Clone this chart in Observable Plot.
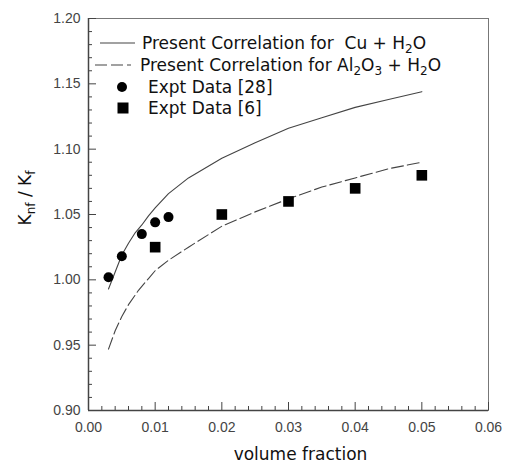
<!DOCTYPE html>
<html><head><meta charset="utf-8">
<script src="https://cdn.jsdelivr.net/npm/d3@7"></script>
<script src="https://cdn.jsdelivr.net/npm/@observablehq/plot@0.6"></script>
<style>body{margin:0;background:#fff}</style>
</head><body><div id="chart"></div>
<script>
// Present correlation, Cu + H2O (solid)
const cuX = [0.003,0.004,0.005,0.006,0.007,0.008,0.009,0.010,0.012,0.015,0.020,0.025,0.030,0.035,0.040,0.045,0.050];
const cuY = [0.993,1.006,1.019,1.028,1.036,1.042,1.049,1.055,1.066,1.078,1.093,1.105,1.116,1.124,1.132,1.138,1.144];
// Present correlation, Al2O3 + H2O (dashed)
const alX = [0.003,0.004,0.005,0.006,0.0075,0.009,0.010,0.012,0.015,0.020,0.025,0.030,0.035,0.040,0.045,0.050];
const alY = [0.947,0.961,0.972,0.981,0.992,1.001,1.007,1.015,1.025,1.041,1.052,1.062,1.071,1.078,1.085,1.090];
// Expt Data [28] (circles)
const e28X = [0.003,0.005,0.008,0.010,0.012];
const e28Y = [1.002,1.018,1.035,1.044,1.048];
// Expt Data [6] (squares)
const e6X = [0.010,0.020,0.030,0.040,0.050];
const e6Y = [1.025,1.050,1.060,1.070,1.080];

const xMajor = [0,0.01,0.02,0.03,0.04,0.05,0.06];
const xMinor = d3.range(0,0.0601,0.002).filter(v => Math.abs(v*100 - Math.round(v*100)) > 1e-6);
const yMajor = [0.90,0.95,1.00,1.05,1.10,1.15,1.20];
const yMinor = d3.range(0.90,1.2001,0.01).filter(v => Math.abs(v*20 - Math.round(v*20)) > 1e-6);

const legendLabels = ["Present Correlation for  Cu + H_{2}O","Present Correlation for Al_{2}O_{3} + H_{2}O","Expt Data [28]","Expt Data [6]"];
const xLabel = "volume fraction";
const yLabel = "K_{nf} / K_{f}";

const W = 509, H = 463, mL = 88, mR = 21, mT = 18, mB = 53;
const fw = W - mL - mR, fh = H - mT - mB;

const cu = cuX.map((x,i)=>({x, y: cuY[i]}));
const al = alX.map((x,i)=>({x, y: alY[i]}));
const e28 = e28X.map((x,i)=>({x, y: e28Y[i]}));
const e6 = e6X.map((x,i)=>({x, y: e6Y[i]}));

const chart = Plot.plot({
  width: W, height: H,
  marginLeft: mL, marginRight: mR, marginTop: mT, marginBottom: mB,
  style: {fontFamily: "'Liberation Sans', Arial, sans-serif", fontSize: "14px", background: "#fff"},
  x: {domain: [0, 0.06]},
  y: {domain: [0.9, 1.2]},
  marks: [
    Plot.frame({stroke: "#777", strokeWidth: 1}),
    Plot.axisX(xMajor, {tickSize: 0, tickPadding: 12, tickFormat: d => d.toFixed(2), fill: "#444", fontSize: 14, label: null}),
    Plot.axisY(yMajor, {tickSize: 0, tickPadding: 8, tickFormat: d => d.toFixed(2), fill: "#444", fontSize: 14, label: null}),
    Plot.ruleX(xMajor, {x: d => d, insetTop: fh - 8, stroke: "#444"}),
    Plot.ruleX(xMinor, {x: d => d, insetTop: fh - 4, stroke: "#444"}),
    Plot.ruleY(yMajor, {y: d => d, insetRight: fw - 8, stroke: "#444"}),
    Plot.ruleY(yMinor, {y: d => d, insetRight: fw - 4, stroke: "#444"}),
    Plot.ruleX([0], {stroke: "#444", strokeWidth: 1.5}),
    Plot.ruleY([0.9], {stroke: "#444", strokeWidth: 1.5}),
    Plot.line(cu, {x: "x", y: "y", stroke: "#444", strokeWidth: 1.1}),
    Plot.line(al, {x: "x", y: "y", stroke: "#444", strokeWidth: 1.1, strokeDasharray: "12,4"}),
    Plot.dot(e28, {x: "x", y: "y", r: 5, fill: "#000", stroke: "none"}),
    Plot.dot(e6, {x: "x", y: "y", r: 6, symbol: "square", fill: "#000", stroke: "none"}),
    Plot.text([xLabel], {frameAnchor: "bottom", dx: 12, dy: 49, lineAnchor: "bottom", fontSize: 17, fontFamily: "DejaVu Sans", fill: "#111"}),
    Plot.text([yLabel], {frameAnchor: "left", rotate: -90, dx: -63, dy: 11, fontSize: 17, fontFamily: "DejaVu Sans", fill: "#111"})
  ]
});

// legend
const svg = d3.select(chart);
const lg = svg.append("g").attr("font-family", "DejaVu Sans").attr("font-size", 17).attr("fill", "#111").attr("text-anchor", "start");
const rows = [43, 65, 87, 108];
lg.append("line").attr("x1", 100).attr("x2", 135).attr("y1", rows[0]).attr("y2", rows[0]).attr("stroke", "#444").attr("stroke-width", 1.1);
lg.append("line").attr("x1", 95).attr("x2", 131).attr("y1", rows[1]).attr("y2", rows[1]).attr("stroke", "#444").attr("stroke-width", 1.1).attr("stroke-dasharray", "12,4");
lg.append("circle").attr("cx", 122).attr("cy", rows[2]).attr("r", 5).attr("fill", "#000");
lg.append("rect").attr("x", 117.5).attr("y", rows[3] - 5.5).attr("width", 11).attr("height", 11).attr("fill", "#000");
const tx = [142, 140, 148, 148];
legendLabels.forEach((t, i) => {
  lg.append("text").attr("x", tx[i]).attr("y", rows[i] + 6).attr("text-anchor", "start").text(t);
});

// subscripts: convert "_{...}" into tspans
svg.selectAll("text").each(function() {
  const el = this;
  const s = el.textContent;
  if (!s.includes("_{")) return;
  const fs = parseFloat(el.getAttribute("font-size")) || parseFloat(el.parentNode.getAttribute("font-size")) || 17;
  const shift = Math.round(fs * 0.22);
  while (el.firstChild) el.removeChild(el.firstChild);
  const parts = s.split(/(_\{[^}]*\})/);
  let pending = 0;
  parts.forEach(p => {
    if (!p) return;
    const ts = document.createElementNS("http://www.w3.org/2000/svg", "tspan");
    if (p.startsWith("_{")) {
      ts.textContent = p.slice(2, -1);
      ts.setAttribute("font-size", Math.round(fs * 0.68));
      ts.setAttribute("dy", shift + pending);
      pending = -shift;
    } else {
      ts.textContent = p;
      if (pending) ts.setAttribute("dy", pending);
      pending = 0;
    }
    el.appendChild(ts);
  });
});

document.getElementById("chart").appendChild(chart);
</script>
</body></html>
